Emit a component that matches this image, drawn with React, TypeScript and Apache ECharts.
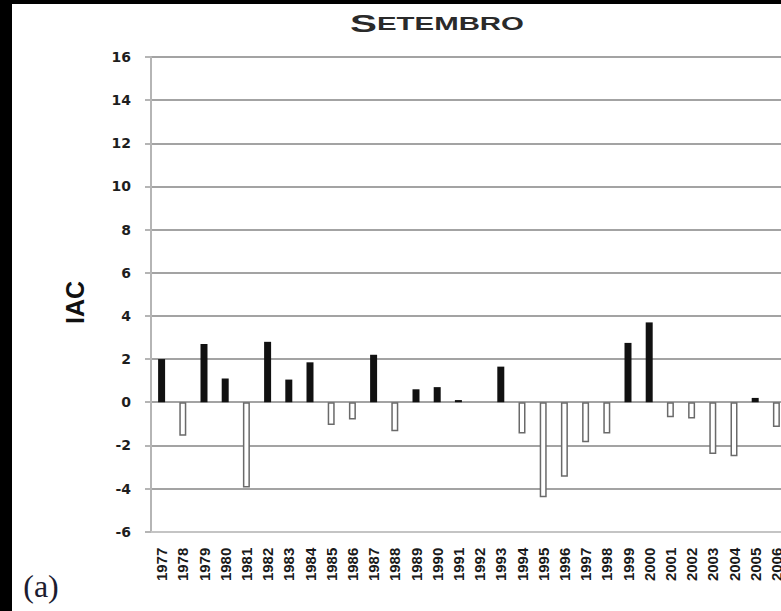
import React, { useEffect, useRef } from "react";
import * as echarts from "echarts";

const years = [
  "1977", "1978", "1979", "1980", "1981", "1982", "1983", "1984", "1985", "1986",
  "1987", "1988", "1989", "1990", "1991", "1992", "1993", "1994", "1995", "1996",
  "1997", "1998", "1999", "2000", "2001", "2002", "2003", "2004", "2005", "2006",
];

const iacValues = [
  2.0, -1.55, 2.7, 1.1, -3.95, 2.8, 1.05, 1.85, -1.05, -0.8,
  2.2, -1.35, 0.6, 0.7, 0.1, 0, 1.65, -1.45, -4.4, -3.45,
  -1.85, -1.45, 2.75, 3.7, -0.7, -0.75, -2.4, -2.5, 0.2, -1.15,
];

const yMin = -6;
const yMax = 16;
const yStep = 2;

const titleFirst = "S";
const titleRest = "ETEMBRO";
const axisName = "IAC";
const panelLabel = "(a)";

export default function App() {
  const ref = useRef<HTMLDivElement>(null);

  useEffect(() => {
    if (!ref.current) return;
    const chart = echarts.init(ref.current, null, { renderer: "svg" });
    const data = iacValues.map((v) =>
      v >= 0
        ? { value: v, itemStyle: { color: "#111111", borderWidth: 0 } }
        : {
            value: v,
            itemStyle: { color: "#ffffff", borderColor: "#6a6a6a", borderWidth: 1.5 },
          }
    );
    chart.setOption({
      animation: false,
      backgroundColor: "transparent",
      grid: { left: 151, top: 57, width: 636, height: 474.7, containLabel: false },
      graphic: [
        {
          type: "text",
          x: 437,
          y: 36,
          scaleX: 1.68,
          style: {
            text: `{a|${titleFirst}}{b|${titleRest}}`,
            align: "center",
            verticalAlign: "bottom",
            fill: "#2a2a2a",
            rich: {
              a: { fontSize: 24, fontWeight: "bold", fontFamily: "Liberation Sans", color: "#2a2a2a" },
              b: { fontSize: 17.5, fontWeight: "bold", fontFamily: "Liberation Sans", color: "#2a2a2a" },
            },
          },
        },
        {
          type: "text",
          x: 41,
          y: 586,
          style: {
            text: panelLabel,
            align: "center",
            verticalAlign: "middle",
            fontSize: 32,
            fontFamily: "Liberation Serif",
            fill: "#1c1c30",
          },
        },
      ],
      xAxis: {
        type: "category",
        data: years,
        position: "bottom",
        axisLine: { onZero: false, lineStyle: { color: "#c4c4c4", width: 2 } },
        axisTick: { show: false },
        axisLabel: {
          interval: 0,
          rotate: 90,
          margin: 16,
          fontSize: 15,
          fontWeight: "bold",
          fontFamily: "Liberation Sans",
          color: "#1a1a1a",
        },
        splitLine: { show: false },
      },
      yAxis: {
        type: "value",
        min: yMin,
        max: yMax,
        interval: yStep,
        name: axisName,
        nameLocation: "middle",
        nameRotate: 90,
        nameGap: 64,
        nameTextStyle: {
          fontSize: 25,
          fontWeight: "bold",
          fontFamily: "Liberation Sans",
          color: "#111111",
          padding: [0, 16, 0, 0],
        },
        axisLine: { show: true, lineStyle: { color: "#b5b5b5", width: 2 } },
        axisTick: { show: true, length: 6, lineStyle: { color: "#b5b5b5", width: 2 } },
        axisLabel: {
          margin: 20,
          fontSize: 14,
          fontWeight: "bold",
          fontFamily: "DejaVu Sans",
          color: "#1e1e1e",
        },
        splitLine: { show: true, lineStyle: { color: "#858585", width: 1.6 } },
      },
      series: [
        {
          type: "bar",
          data,
          barWidth: 7,
        },
      ],
    });
    return () => chart.dispose();
  }, []);

  return (
    <div
      style={{
        position: "fixed",
        left: 0,
        top: 0,
        width: 781,
        height: 611,
        overflow: "hidden",
        background: "#000000",
      }}
    >
      <div
        style={{
          position: "absolute",
          left: 12,
          top: 4,
          right: 0,
          bottom: 0,
          background: "#ffffff",
        }}
      />
      <div
        ref={ref}
        style={{ position: "absolute", left: 0, top: 0, width: 800, height: 611 }}
      />
    </div>
  );
}
